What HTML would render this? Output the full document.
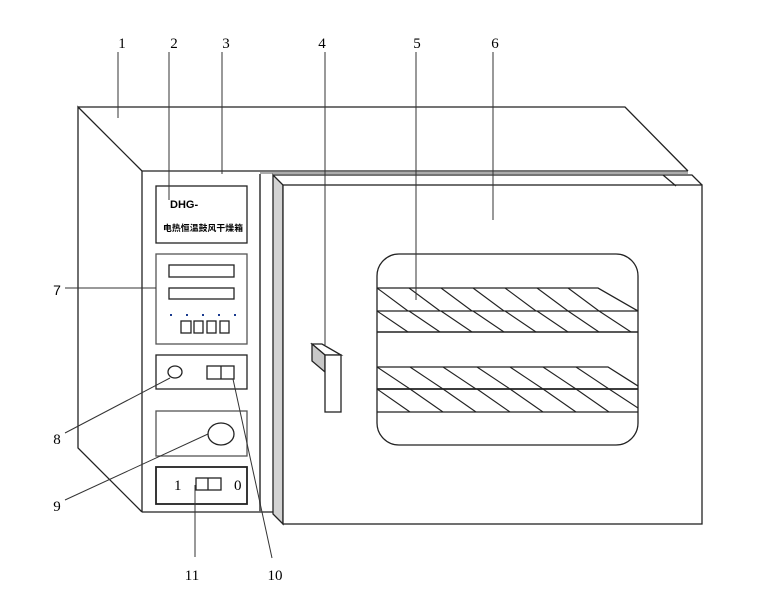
<!DOCTYPE html>
<html><head><meta charset="utf-8"><style>
html,body{margin:0;padding:0;background:#fff;}
svg{display:block;}
.l{font-family:"Liberation Serif",serif;font-size:15px;fill:#000;}
</style></head><body>
<svg width="773" height="602" viewBox="0 0 773 602" xmlns="http://www.w3.org/2000/svg">
<g fill="none" stroke="#222" stroke-width="1.3">
<!-- body outline -->
<polyline points="142,171 78,107 78,448 142,512"/>
<polyline points="78,107 625,107 688,171"/>
<line x1="142" y1="171" x2="688" y2="171"/>
<line x1="260" y1="173" x2="688" y2="173" stroke-width="0.8"/>
<line x1="142" y1="171" x2="142" y2="512"/>
<line x1="142" y1="512" x2="273" y2="512"/>
<line x1="260" y1="174" x2="260" y2="512" stroke="#666" stroke-width="2"/>
<!-- door -->
<polygon points="273,175 283,185 283,524 273,514" fill="#d3d3d3"/>
<polyline points="273,175 692,175 702,185"/>
<rect x="283" y="185" width="419" height="339" fill="#fff"/>
<line x1="663" y1="175" x2="676" y2="186"/>
<!-- window -->
<rect x="377" y="254" width="261" height="191" rx="22" ry="22"/>
<polyline points="377,288 598,288 638,311"/>
<line x1="377" y1="311" x2="638" y2="311"/>
<line x1="377" y1="332" x2="638" y2="332" stroke-width="1.6"/>
<polyline points="377,367 608,367 638,386"/>
<line x1="377" y1="389" x2="638" y2="389" stroke-width="1.8"/>
<line x1="377" y1="412" x2="638" y2="412"/>
<g stroke-width="1.1">
<line x1="377" y1="288" x2="408" y2="311"/><line x1="409" y1="288" x2="440" y2="311"/><line x1="441" y1="288" x2="472" y2="311"/><line x1="473" y1="288" x2="504" y2="311"/><line x1="505" y1="288" x2="536" y2="311"/><line x1="537" y1="288" x2="568" y2="311"/><line x1="568" y1="288" x2="599" y2="311"/>
<line x1="377" y1="311" x2="408" y2="332"/><line x1="409" y1="311" x2="440" y2="332"/><line x1="441" y1="311" x2="472" y2="332"/><line x1="473" y1="311" x2="504" y2="332"/><line x1="505" y1="311" x2="536" y2="332"/><line x1="537" y1="311" x2="568" y2="332"/><line x1="568" y1="311" x2="599" y2="332"/><line x1="599" y1="311" x2="631" y2="332"/>
<line x1="377" y1="367" x2="410" y2="389"/><line x1="410" y1="367" x2="443" y2="389"/><line x1="443" y1="367" x2="476" y2="389"/><line x1="477" y1="367" x2="510" y2="389"/><line x1="510" y1="367" x2="543" y2="389"/><line x1="543" y1="367" x2="576" y2="389"/><line x1="576" y1="367" x2="609" y2="389"/>
<line x1="377" y1="389" x2="410" y2="412"/><line x1="410" y1="389" x2="443" y2="412"/><line x1="443" y1="389" x2="476" y2="412"/><line x1="477" y1="389" x2="510" y2="412"/><line x1="510" y1="389" x2="543" y2="412"/><line x1="543" y1="389" x2="576" y2="412"/><line x1="576" y1="389" x2="609" y2="412"/><line x1="609" y1="389" x2="638" y2="408"/>
</g>
<!-- handle -->
<polygon points="312,344 322,344 341,355 325,355" fill="#fff"/>
<polygon points="312,344 325,355 325,372 312,361" fill="#c8c8c8"/>
<rect x="325" y="355" width="16" height="57" fill="#fff"/>
<!-- panels -->
<rect x="156" y="186" width="91" height="57"/>
<rect x="156" y="254" width="91" height="90" stroke="#555"/>
<rect x="156" y="355" width="91" height="34"/>
<rect x="156" y="411" width="91" height="45" stroke="#555"/>
<rect x="156" y="467" width="91" height="37" stroke-width="1.8"/>
<rect x="169" y="265" width="65" height="12"/>
<rect x="169" y="288" width="65" height="11"/>
<rect x="181" y="321" width="10" height="12"/><rect x="194" y="321" width="9" height="12"/><rect x="207" y="321" width="9" height="12"/><rect x="220" y="321" width="9" height="12"/>
<ellipse cx="175" cy="372" rx="7" ry="6"/>
<rect x="207" y="366" width="27" height="13"/><line x1="221" y1="366" x2="221" y2="379"/>
<ellipse cx="221" cy="434" rx="13" ry="11"/>
<rect x="196" y="478" width="25" height="12"/><line x1="208" y1="478" x2="208" y2="490"/>
<!-- leaders -->
<g stroke="#333" stroke-width="1">
<line x1="118" y1="52" x2="118" y2="118"/>
<line x1="169" y1="52" x2="169" y2="200"/>
<line x1="222" y1="52" x2="222" y2="174"/>
<line x1="325" y1="52" x2="325" y2="345"/>
<line x1="416" y1="52" x2="416" y2="300"/>
<line x1="493" y1="52" x2="493" y2="220"/>
<line x1="65" y1="288" x2="156" y2="288"/>
<line x1="65" y1="433" x2="170" y2="378"/>
<line x1="65" y1="500" x2="208" y2="434"/>
<line x1="195" y1="485" x2="195" y2="557"/>
<line x1="233" y1="379" x2="272" y2="558"/>
</g>
</g>
<g fill="#1a3b8f">
<rect x="170" y="314" width="2" height="2"/><rect x="186" y="314" width="2" height="2"/><rect x="202" y="314" width="2" height="2"/><rect x="218" y="314" width="2" height="2"/><rect x="234" y="314" width="2" height="2"/>
</g>
<text x="170" y="208" font-family="Liberation Sans Narrow,Liberation Sans,sans-serif" font-weight="bold" font-size="11">DHG-</text>
<text x="163" y="231" font-family="Liberation Sans,'Noto Sans CJK SC',sans-serif" font-weight="bold" font-size="8.8" textLength="80">电热恒温鼓风干燥箱</text>
<text x="174" y="490" class="l" font-size="14">1</text>
<text x="234" y="490" class="l" font-size="14">0</text>
<text x="122" y="48" class="l" text-anchor="middle">1</text>
<text x="174" y="48" class="l" text-anchor="middle">2</text>
<text x="226" y="48" class="l" text-anchor="middle">3</text>
<text x="322" y="48" class="l" text-anchor="middle">4</text>
<text x="417" y="48" class="l" text-anchor="middle">5</text>
<text x="495" y="48" class="l" text-anchor="middle">6</text>
<text x="57" y="295" font-family="Liberation Sans,sans-serif" font-size="14" text-anchor="middle">7</text>
<text x="57" y="444" class="l" text-anchor="middle">8</text>
<text x="57" y="511" class="l" text-anchor="middle">9</text>
<text x="192" y="580" class="l" text-anchor="middle">11</text>
<text x="275" y="580" class="l" text-anchor="middle">10</text>
</svg>
</body></html>
